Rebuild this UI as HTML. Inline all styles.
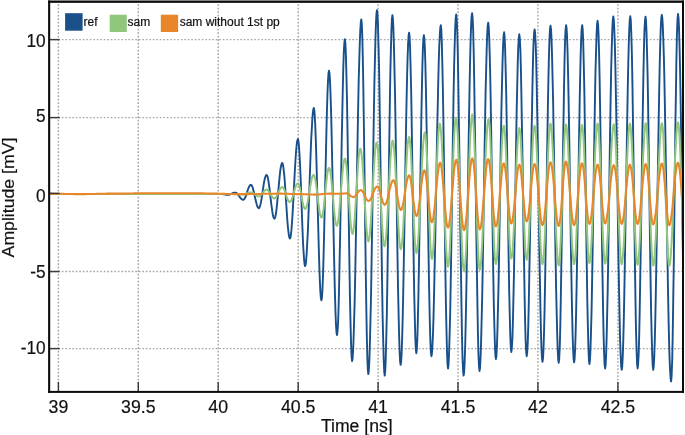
<!DOCTYPE html>
<html><head><meta charset="utf-8"><title>Amplitude vs Time</title>
<style>html,body{margin:0;padding:0;background:#fff;overflow:hidden}</style></head>
<body>
<svg width="685" height="435" viewBox="0 0 685 435" style="display:block">
<rect width="685" height="435" fill="#fff"/>
<g stroke="#a4a4a4" stroke-width="1.4" stroke-dasharray="1.6 1.9" stroke-dashoffset="2.2" fill="none"><line x1="58.4" y1="3" x2="58.4" y2="391" /><line x1="138.3" y1="3" x2="138.3" y2="391" /><line x1="218.2" y1="3" x2="218.2" y2="391" /><line x1="298.2" y1="3" x2="298.2" y2="391" /><line x1="378.1" y1="3" x2="378.1" y2="391" /><line x1="458.0" y1="3" x2="458.0" y2="391" /><line x1="537.9" y1="3" x2="537.9" y2="391" /><line x1="617.9" y1="3" x2="617.9" y2="391" /><line x1="50" y1="39.60" x2="682" y2="39.60" /><line x1="50" y1="117.60" x2="682" y2="117.60" /><line x1="50" y1="271.55" x2="682" y2="271.55" /><line x1="50" y1="348.60" x2="682" y2="348.60" /></g>
<path d="M50.0,194.1 L50.5,194.1 L51.0,194.1 L51.5,194.1 L52.0,194.1 L52.5,194.1 L53.0,194.1 L53.5,194.1 L54.0,194.1 L54.5,194.1 L55.0,194.1 L55.5,194.1 L56.0,194.1 L56.5,194.1 L57.0,194.1 L57.5,194.1 L58.0,194.1 L58.5,194.1 L59.0,194.1 L59.5,194.1 L60.0,194.1 L60.5,194.1 L61.0,194.1 L61.5,194.1 L62.0,194.1 L62.5,194.1 L63.0,194.1 L63.5,194.1 L64.0,194.1 L64.5,194.1 L65.0,194.1 L65.5,194.1 L66.0,194.1 L66.5,194.1 L67.0,194.1 L67.5,194.1 L68.0,194.1 L68.5,194.1 L69.0,194.1 L69.5,194.1 L70.0,194.1 L70.5,194.1 L71.0,194.1 L71.5,194.1 L72.0,194.1 L72.5,194.1 L73.0,194.1 L73.5,194.1 L74.0,194.1 L74.5,194.1 L75.0,194.1 L75.5,194.1 L76.0,194.1 L76.5,194.1 L77.0,194.1 L77.5,194.1 L78.0,194.1 L78.5,194.1 L79.0,194.1 L79.5,194.1 L80.0,194.1 L80.5,194.1 L81.0,194.1 L81.5,194.1 L82.0,194.1 L82.5,194.1 L83.0,194.1 L83.5,194.1 L84.0,194.1 L84.5,194.1 L85.0,194.1 L85.5,194.1 L86.0,194.1 L86.5,194.1 L87.0,194.1 L87.5,194.1 L88.0,194.1 L88.5,194.1 L89.0,194.1 L89.5,194.1 L90.0,194.1 L90.5,194.1 L91.0,194.1 L91.5,194.1 L92.0,194.1 L92.5,194.1 L93.0,194.1 L93.5,194.1 L94.0,194.1 L94.5,194.1 L95.0,194.1 L95.5,194.1 L96.0,194.1 L96.5,194.1 L97.0,194.1 L97.5,194.1 L98.0,194.1 L98.5,194.1 L99.0,194.1 L99.5,194.1 L100.0,194.1 L100.5,194.1 L101.0,194.1 L101.5,194.1 L102.0,194.1 L102.5,194.1 L103.0,194.1 L103.5,194.1 L104.0,194.1 L104.5,194.1 L105.0,194.1 L105.5,194.1 L106.0,194.1 L106.5,194.1 L107.0,194.1 L107.5,194.1 L108.0,194.1 L108.5,194.1 L109.0,194.1 L109.5,194.1 L110.0,194.1 L110.5,194.1 L111.0,194.1 L111.5,194.1 L112.0,194.1 L112.5,194.1 L113.0,194.1 L113.5,194.1 L114.0,194.1 L114.5,194.1 L115.0,194.1 L115.5,194.1 L116.0,194.1 L116.5,194.1 L117.0,194.1 L117.5,194.1 L118.0,194.1 L118.5,194.1 L119.0,194.1 L119.5,194.1 L120.0,194.1 L120.5,194.1 L121.0,194.1 L121.5,194.1 L122.0,194.1 L122.5,194.1 L123.0,194.1 L123.5,194.1 L124.0,194.1 L124.5,194.1 L125.0,194.1 L125.5,194.1 L126.0,194.1 L126.5,194.1 L127.0,194.1 L127.5,194.1 L128.0,194.1 L128.5,194.1 L129.0,194.1 L129.5,194.1 L130.0,194.1 L130.5,194.1 L131.0,194.1 L131.5,194.1 L132.0,194.1 L132.5,194.1 L133.0,194.1 L133.5,194.1 L134.0,194.1 L134.5,194.1 L135.0,194.1 L135.5,194.1 L136.0,194.1 L136.5,194.1 L137.0,194.1 L137.5,194.1 L138.0,194.1 L138.5,194.1 L139.0,194.1 L139.5,194.1 L140.0,194.1 L140.5,194.1 L141.0,194.1 L141.5,194.1 L142.0,194.1 L142.5,194.1 L143.0,194.1 L143.5,194.1 L144.0,194.1 L144.5,194.1 L145.0,194.1 L145.5,194.1 L146.0,194.1 L146.5,194.1 L147.0,194.1 L147.5,194.1 L148.0,194.1 L148.5,194.1 L149.0,194.1 L149.5,194.1 L150.0,194.1 L150.5,194.1 L151.0,194.1 L151.5,194.1 L152.0,194.1 L152.5,194.1 L153.0,194.1 L153.5,194.1 L154.0,194.1 L154.5,194.1 L155.0,194.1 L155.5,194.1 L156.0,194.1 L156.5,194.1 L157.0,194.1 L157.5,194.1 L158.0,194.1 L158.5,194.1 L159.0,194.1 L159.5,194.1 L160.0,194.1 L160.5,194.1 L161.0,194.1 L161.5,194.1 L162.0,194.1 L162.5,194.1 L163.0,194.1 L163.5,194.1 L164.0,194.1 L164.5,194.1 L165.0,194.1 L165.5,194.1 L166.0,194.1 L166.5,194.1 L167.0,194.1 L167.5,194.1 L168.0,194.1 L168.5,194.1 L169.0,194.1 L169.5,194.1 L170.0,194.1 L170.5,194.1 L171.0,194.1 L171.5,194.1 L172.0,194.1 L172.5,194.1 L173.0,194.1 L173.5,194.1 L174.0,194.1 L174.5,194.1 L175.0,194.1 L175.5,194.1 L176.0,194.1 L176.5,194.1 L177.0,194.1 L177.5,194.1 L178.0,194.1 L178.5,194.1 L179.0,194.1 L179.5,194.1 L180.0,194.1 L180.5,194.1 L181.0,194.1 L181.5,194.1 L182.0,194.1 L182.5,194.1 L183.0,194.1 L183.5,194.1 L184.0,194.1 L184.5,194.1 L185.0,194.1 L185.5,194.1 L186.0,194.1 L186.5,194.1 L187.0,194.1 L187.5,194.1 L188.0,194.1 L188.5,194.1 L189.0,194.1 L189.5,194.1 L190.0,194.1 L190.5,194.1 L191.0,194.1 L191.5,194.1 L192.0,194.1 L192.5,194.1 L193.0,194.1 L193.5,194.1 L194.0,194.1 L194.5,194.1 L195.0,194.1 L195.5,194.1 L196.0,194.1 L196.5,194.1 L197.0,194.1 L197.5,194.1 L198.0,194.1 L198.5,194.1 L199.0,194.1 L199.5,194.1 L200.0,194.1 L200.5,194.1 L201.0,194.1 L201.5,194.1 L202.0,194.1 L202.5,194.1 L203.0,194.1 L203.5,194.1 L204.0,194.1 L204.5,194.1 L205.0,194.1 L205.5,194.1 L206.0,194.1 L206.5,194.1 L207.0,194.1 L207.5,194.1 L208.0,194.1 L208.5,194.1 L209.0,194.1 L209.5,194.1 L210.0,194.1 L210.5,194.1 L211.0,194.1 L211.5,194.1 L212.0,194.1 L212.5,194.1 L213.0,194.1 L213.5,194.1 L214.0,194.1 L214.5,194.1 L215.0,194.1 L215.5,194.1 L216.0,194.1 L216.5,194.1 L217.0,194.1 L217.5,194.1 L218.0,194.1 L218.5,194.1 L219.0,194.1 L219.5,194.1 L220.0,194.1 L220.5,194.1 L221.0,194.1 L221.5,194.1 L222.0,194.1 L222.5,194.1 L223.0,194.2 L223.5,194.2 L224.0,194.3 L224.5,194.4 L225.0,194.5 L225.5,194.6 L226.0,194.7 L226.5,194.8 L227.0,194.8 L227.5,194.9 L228.0,194.9 L228.5,194.8 L229.0,194.8 L229.5,194.6 L230.1,194.4 L230.6,194.2 L231.1,194.0 L231.6,193.7 L232.1,193.5 L232.6,193.2 L233.1,193.0 L233.7,192.8 L234.2,192.7 L234.7,192.6 L235.2,192.6 L235.7,192.6 L236.2,192.8 L236.7,193.2 L237.2,193.6 L237.7,194.2 L238.2,194.8 L238.7,195.5 L239.2,196.2 L239.7,196.9 L240.2,197.6 L240.7,198.2 L241.2,198.8 L241.7,199.2 L242.2,199.5 L242.7,199.7 L243.2,199.8 L243.7,199.7 L244.2,199.2 L244.7,198.4 L245.3,197.3 L245.8,196.1 L246.3,194.6 L246.8,193.1 L247.3,191.5 L247.8,190.0 L248.3,188.6 L248.8,187.3 L249.4,186.3 L249.9,185.5 L250.4,185.0 L250.9,184.8 L251.4,185.1 L252.0,185.8 L252.5,187.1 L253.0,188.7 L253.5,190.7 L254.1,192.9 L254.6,195.3 L255.1,197.7 L255.6,200.1 L256.2,202.3 L256.7,204.3 L257.2,205.9 L257.7,207.2 L258.3,207.9 L258.8,208.2 L259.3,207.8 L259.8,206.7 L260.3,205.0 L260.9,202.7 L261.4,199.9 L261.9,196.7 L262.4,193.3 L262.9,189.8 L263.4,186.4 L263.9,183.2 L264.4,180.4 L265.0,178.1 L265.5,176.4 L266.0,175.3 L266.5,174.9 L267.0,175.4 L267.6,176.8 L268.1,179.1 L268.6,182.2 L269.1,185.9 L269.7,190.0 L270.2,194.5 L270.7,199.1 L271.2,203.6 L271.8,207.7 L272.3,211.4 L272.8,214.5 L273.3,216.8 L273.9,218.2 L274.4,218.7 L274.9,218.1 L275.4,216.3 L276.0,213.3 L276.5,209.4 L277.0,204.7 L277.5,199.4 L278.0,193.7 L278.6,187.9 L279.1,182.2 L279.6,176.8 L280.1,172.1 L280.6,168.2 L281.2,165.3 L281.7,163.5 L282.2,162.9 L282.7,163.7 L283.2,166.2 L283.7,170.1 L284.3,175.4 L284.8,181.8 L285.3,189.0 L285.8,196.8 L286.3,204.7 L286.8,212.4 L287.3,219.7 L287.8,226.1 L288.4,231.4 L288.9,235.3 L289.4,237.8 L289.9,238.6 L290.4,237.6 L290.9,234.8 L291.4,230.2 L291.9,224.0 L292.4,216.5 L292.9,207.9 L293.4,198.6 L293.9,188.8 L294.4,179.1 L294.9,169.8 L295.4,161.2 L295.9,153.7 L296.4,147.5 L296.9,142.9 L297.4,140.1 L297.9,139.1 L298.4,140.7 L298.9,145.4 L299.4,153.0 L300.0,163.0 L300.5,175.0 L301.0,188.5 L301.5,202.6 L302.0,216.7 L302.5,230.1 L303.0,242.2 L303.6,252.2 L304.1,259.8 L304.6,264.5 L305.1,266.1 L305.6,264.8 L306.1,260.8 L306.6,254.3 L307.1,245.5 L307.7,234.7 L308.2,222.3 L308.7,208.7 L309.2,194.4 L309.7,179.8 L310.2,165.4 L310.7,151.8 L311.2,139.4 L311.8,128.7 L312.3,119.9 L312.8,113.4 L313.3,109.4 L313.8,108.0 L314.3,110.1 L314.8,116.4 L315.3,126.4 L315.8,139.9 L316.3,156.1 L316.8,174.5 L317.3,194.2 L317.9,214.3 L318.4,233.9 L318.9,252.3 L319.4,268.6 L319.9,282.0 L320.4,292.1 L320.9,298.3 L321.4,300.4 L321.9,297.9 L322.4,290.5 L322.9,278.5 L323.4,262.4 L323.9,243.0 L324.4,221.1 L324.9,197.6 L325.5,173.6 L326.0,150.1 L326.5,128.2 L327.0,108.8 L327.5,92.7 L328.0,80.7 L328.5,73.3 L329.0,70.8 L329.5,73.3 L330.0,80.9 L330.5,93.1 L331.0,109.5 L331.5,129.5 L332.0,152.4 L332.5,177.1 L333.0,202.9 L333.5,228.7 L334.0,253.5 L334.5,276.3 L335.0,296.3 L335.5,312.7 L336.0,324.9 L336.5,332.5 L337.0,335.0 L337.5,331.8 L338.1,322.2 L338.6,306.8 L339.1,286.1 L339.6,261.1 L340.2,232.8 L340.7,202.6 L341.2,171.7 L341.7,141.5 L342.3,113.2 L342.8,88.2 L343.3,67.5 L343.8,52.1 L344.4,42.5 L344.9,39.3 L345.4,43.3 L345.9,55.2 L346.4,74.4 L347.0,99.9 L347.5,130.4 L348.0,164.4 L348.5,200.2 L349.0,236.0 L349.5,270.0 L350.0,300.5 L350.6,326.0 L351.1,345.2 L351.6,357.1 L352.1,361.1 L352.6,358.5 L353.1,350.8 L353.6,338.2 L354.1,321.1 L354.7,300.1 L355.2,275.7 L355.7,248.7 L356.2,219.9 L356.7,190.2 L357.2,160.6 L357.7,131.8 L358.2,104.8 L358.7,80.4 L359.3,59.3 L359.8,42.3 L360.3,29.7 L360.8,22.0 L361.3,19.4 L361.8,23.8 L362.3,36.9 L362.8,58.1 L363.3,86.1 L363.8,119.8 L364.3,157.3 L364.8,196.7 L365.3,236.2 L365.8,273.7 L366.3,307.3 L366.8,335.4 L367.3,356.5 L367.8,369.6 L368.3,374.1 L368.8,371.0 L369.3,361.8 L369.8,346.8 L370.3,326.6 L370.9,301.8 L371.4,273.2 L371.9,241.9 L372.4,208.9 L372.9,175.3 L373.4,142.3 L373.9,111.0 L374.4,82.4 L375.0,57.6 L375.5,37.4 L376.0,22.4 L376.5,13.2 L377.0,10.1 L377.5,14.1 L378.0,25.9 L378.5,45.0 L379.1,70.6 L379.6,101.5 L380.1,136.4 L380.6,173.8 L381.1,212.0 L381.6,249.3 L382.1,284.3 L382.6,315.2 L383.2,340.7 L383.7,359.8 L384.2,371.6 L384.7,375.6 L385.2,371.7 L385.7,360.1 L386.2,341.2 L386.8,316.0 L387.3,285.5 L387.8,251.1 L388.3,214.3 L388.8,176.6 L389.3,139.7 L389.8,105.3 L390.3,74.8 L390.9,49.6 L391.4,30.8 L391.9,19.1 L392.4,15.2 L392.9,18.5 L393.4,28.5 L393.9,44.7 L394.4,66.4 L395.0,92.9 L395.5,123.1 L396.0,155.9 L396.5,190.0 L397.0,224.1 L397.5,256.9 L398.0,287.1 L398.6,313.6 L399.1,335.4 L399.6,351.5 L400.1,361.5 L400.6,364.8 L401.1,362.0 L401.6,353.6 L402.1,339.9 L402.6,321.5 L403.1,298.8 L403.6,272.8 L404.1,244.2 L404.6,214.1 L405.1,183.4 L405.6,153.3 L406.1,124.7 L406.6,98.6 L407.1,76.0 L407.6,57.5 L408.1,43.9 L408.6,35.5 L409.1,32.6 L409.6,36.7 L410.1,48.5 L410.6,67.6 L411.2,93.0 L411.7,123.4 L412.2,157.3 L412.7,192.9 L413.2,228.6 L413.7,262.5 L414.2,292.9 L414.8,318.3 L415.3,337.4 L415.8,349.2 L416.3,353.2 L416.8,349.8 L417.3,339.5 L417.8,322.9 L418.3,300.6 L418.8,273.7 L419.3,243.3 L419.8,210.8 L420.4,177.6 L420.9,145.0 L421.4,114.6 L421.9,87.7 L422.4,65.5 L422.9,48.9 L423.4,38.6 L423.9,35.1 L424.4,38.6 L424.9,49.0 L425.4,65.8 L425.9,88.2 L426.4,115.4 L426.9,146.0 L427.4,178.9 L427.9,212.4 L428.4,245.3 L428.9,275.9 L429.4,303.1 L429.9,325.5 L430.4,342.3 L430.9,352.7 L431.4,356.2 L431.9,353.7 L432.4,346.2 L433.0,334.0 L433.5,317.4 L434.0,297.0 L434.5,273.4 L435.1,247.2 L435.6,219.4 L436.1,190.6 L436.6,161.9 L437.1,134.0 L437.7,107.9 L438.2,84.2 L438.7,63.8 L439.2,47.3 L439.8,35.1 L440.3,27.6 L440.8,25.1 L441.3,29.4 L441.8,42.1 L442.3,62.5 L442.9,89.7 L443.4,122.3 L443.9,158.6 L444.4,196.8 L444.9,235.0 L445.4,271.3 L445.9,303.9 L446.5,331.1 L447.0,351.5 L447.5,364.2 L448.0,368.5 L448.5,365.1 L449.0,355.1 L449.5,338.7 L450.1,316.7 L450.6,289.8 L451.1,259.2 L451.6,226.0 L452.1,191.5 L452.6,156.9 L453.1,123.7 L453.6,93.1 L454.1,66.3 L454.7,44.3 L455.2,27.9 L455.7,17.8 L456.2,14.4 L456.7,18.9 L457.3,32.3 L457.8,53.8 L458.3,82.4 L458.8,116.7 L459.4,154.8 L459.9,195.0 L460.4,235.2 L461.0,273.4 L461.5,307.6 L462.0,336.2 L462.5,357.8 L463.1,371.1 L463.6,375.6 L464.1,372.6 L464.6,363.4 L465.1,348.5 L465.6,328.3 L466.1,303.6 L466.6,275.2 L467.1,244.0 L467.6,211.1 L468.1,177.7 L468.6,144.8 L469.1,113.6 L469.6,85.2 L470.1,60.5 L470.6,40.3 L471.1,25.4 L471.6,16.3 L472.1,13.2 L472.6,17.7 L473.2,30.9 L473.7,52.2 L474.2,80.5 L474.7,114.5 L475.3,152.3 L475.8,192.1 L476.3,231.9 L476.9,269.7 L477.4,303.6 L477.9,332.0 L478.4,353.3 L479.0,366.5 L479.5,371.0 L480.0,368.0 L480.5,359.2 L481.0,344.9 L481.5,325.5 L482.1,301.8 L482.6,274.5 L483.1,244.5 L483.6,212.9 L484.1,180.7 L484.6,149.1 L485.1,119.2 L485.6,91.8 L486.2,68.1 L486.7,48.7 L487.2,34.4 L487.7,25.6 L488.2,22.6 L488.7,26.3 L489.2,37.2 L489.7,54.7 L490.3,78.3 L490.8,106.7 L491.3,138.9 L491.8,173.3 L492.3,208.4 L492.8,242.8 L493.3,275.0 L493.8,303.4 L494.4,327.0 L494.9,344.6 L495.4,355.4 L495.9,359.1 L496.4,356.0 L496.9,346.7 L497.4,331.6 L497.9,311.3 L498.5,286.5 L499.0,258.2 L499.5,227.6 L500.0,195.7 L500.5,163.8 L501.0,133.2 L501.5,105.0 L502.1,80.2 L502.6,59.9 L503.1,44.8 L503.6,35.5 L504.1,32.3 L504.6,36.3 L505.1,48.2 L505.6,67.2 L506.2,92.5 L506.7,122.8 L507.2,156.6 L507.7,192.2 L508.2,227.7 L508.7,261.5 L509.2,291.8 L509.8,317.1 L510.3,336.2 L510.8,348.0 L511.3,352.0 L511.8,348.5 L512.4,338.3 L512.9,321.7 L513.4,299.4 L514.0,272.6 L514.5,242.3 L515.0,209.8 L515.6,176.6 L516.1,144.1 L516.6,113.8 L517.2,86.9 L517.7,64.7 L518.2,48.1 L518.8,37.8 L519.3,34.3 L519.8,38.4 L520.4,50.3 L520.9,69.5 L521.4,94.9 L521.9,125.4 L522.5,159.5 L523.0,195.3 L523.5,231.1 L524.1,265.1 L524.6,295.6 L525.1,321.1 L525.6,340.2 L526.2,352.1 L526.7,356.2 L527.2,352.6 L527.8,342.0 L528.3,325.0 L528.8,302.1 L529.3,274.5 L529.9,243.3 L530.4,209.9 L530.9,175.7 L531.4,142.3 L532.0,111.1 L532.5,83.5 L533.0,60.6 L533.5,43.5 L534.1,33.0 L534.6,29.4 L535.1,33.0 L535.7,43.8 L536.2,61.2 L536.7,84.4 L537.2,112.5 L537.8,144.3 L538.3,178.3 L538.8,213.0 L539.3,247.0 L539.9,278.8 L540.4,306.9 L540.9,330.1 L541.4,347.5 L542.0,358.3 L542.5,361.9 L543.0,358.7 L543.5,349.1 L544.0,333.6 L544.5,312.7 L545.0,287.2 L545.5,258.1 L546.0,226.6 L546.5,193.8 L547.0,161.0 L547.5,129.5 L548.0,100.4 L548.5,74.9 L549.0,54.0 L549.5,38.5 L550.0,28.9 L550.5,25.7 L551.0,28.9 L551.5,38.5 L552.0,54.1 L552.5,75.1 L553.1,100.6 L553.6,129.7 L554.1,161.4 L554.6,194.3 L555.1,227.1 L555.6,258.8 L556.1,287.9 L556.7,313.4 L557.2,334.4 L557.7,350.0 L558.2,359.6 L558.7,362.8 L559.2,358.6 L559.8,346.1 L560.3,326.0 L560.8,299.2 L561.3,267.2 L561.9,231.5 L562.4,193.9 L562.9,156.4 L563.5,120.7 L564.0,88.7 L564.5,61.9 L565.0,41.8 L565.6,29.3 L566.1,25.1 L566.6,28.3 L567.1,37.9 L567.6,53.5 L568.1,74.5 L568.6,100.0 L569.1,129.2 L569.6,160.8 L570.1,193.7 L570.6,226.6 L571.1,258.2 L571.6,287.4 L572.1,313.0 L572.6,333.9 L573.1,349.5 L573.6,359.1 L574.1,362.4 L574.6,359.1 L575.1,349.5 L575.6,333.9 L576.1,313.0 L576.6,287.4 L577.1,258.2 L577.6,226.6 L578.2,193.7 L578.7,160.8 L579.2,129.2 L579.7,100.0 L580.2,74.5 L580.7,53.5 L581.2,37.9 L581.7,28.3 L582.2,25.1 L582.7,29.3 L583.2,41.9 L583.7,62.1 L584.3,88.9 L584.8,121.0 L585.3,156.8 L585.8,194.6 L586.3,232.3 L586.8,268.1 L587.3,300.2 L587.9,327.1 L588.4,347.3 L588.9,359.8 L589.4,364.0 L589.9,360.8 L590.4,351.0 L590.9,335.1 L591.5,313.8 L592.0,287.8 L592.5,258.1 L593.0,225.9 L593.5,192.4 L594.0,158.9 L594.5,126.7 L595.0,97.0 L595.5,71.0 L596.1,49.7 L596.6,33.8 L597.1,24.0 L597.6,20.8 L598.1,24.6 L598.6,35.8 L599.1,54.0 L599.6,78.3 L600.1,107.7 L600.6,140.9 L601.1,176.5 L601.6,212.8 L602.1,248.4 L602.6,281.6 L603.1,311.0 L603.6,335.3 L604.1,353.5 L604.6,364.7 L605.1,368.5 L605.6,365.1 L606.1,355.1 L606.6,338.9 L607.1,317.0 L607.7,290.3 L608.2,259.9 L608.7,226.8 L609.2,192.5 L609.7,158.1 L610.2,125.1 L610.7,94.7 L611.2,68.0 L611.8,46.1 L612.3,29.8 L612.8,19.8 L613.3,16.4 L613.8,19.8 L614.3,29.9 L614.9,46.2 L615.4,68.2 L615.9,94.9 L616.5,125.5 L617.0,158.6 L617.5,193.1 L618.0,227.6 L618.5,260.7 L619.1,291.2 L619.6,318.0 L620.1,340.0 L620.7,356.3 L621.2,366.4 L621.7,369.8 L622.2,366.8 L622.7,357.8 L623.2,343.3 L623.7,323.6 L624.2,299.5 L624.7,271.8 L625.2,241.4 L625.7,209.3 L626.3,176.7 L626.8,144.6 L627.3,114.2 L627.8,86.5 L628.3,62.4 L628.8,42.7 L629.3,28.2 L629.8,19.3 L630.3,16.3 L630.8,20.7 L631.3,33.7 L631.9,54.7 L632.4,82.6 L632.9,116.0 L633.4,153.2 L634.0,192.4 L634.5,231.6 L635.0,268.8 L635.5,302.2 L636.0,330.1 L636.6,351.1 L637.1,364.1 L637.6,368.5 L638.1,364.7 L638.7,353.3 L639.2,334.9 L639.7,310.3 L640.2,280.6 L640.8,247.0 L641.3,211.0 L641.8,174.2 L642.3,138.3 L642.9,104.7 L643.4,74.9 L643.9,50.3 L644.4,31.9 L645.0,20.6 L645.5,16.7 L646.0,20.6 L646.5,32.0 L647.0,50.4 L647.6,75.1 L648.1,105.0 L648.6,138.7 L649.1,174.8 L649.6,211.7 L650.1,247.8 L650.6,281.5 L651.1,311.4 L651.7,336.1 L652.2,354.5 L652.7,365.9 L653.2,369.8 L653.7,366.7 L654.2,357.8 L654.7,343.2 L655.2,323.5 L655.7,299.3 L656.2,271.4 L656.7,240.9 L657.2,208.7 L657.8,176.0 L658.3,143.8 L658.8,113.2 L659.3,85.4 L659.8,61.2 L660.3,41.5 L660.8,26.9 L661.3,17.9 L661.8,14.9 L662.3,17.7 L662.8,25.9 L663.3,39.4 L663.9,57.8 L664.4,80.4 L664.9,106.5 L665.4,135.5 L665.9,166.4 L666.5,198.2 L667.0,230.0 L667.5,260.9 L668.0,289.9 L668.5,316.0 L669.0,338.6 L669.5,356.9 L670.1,370.5 L670.6,378.7 L671.1,381.5 L671.6,376.2 L672.2,360.5 L672.7,335.3 L673.2,302.1 L673.8,262.9 L674.3,219.9 L674.8,175.6 L675.3,132.6 L675.9,93.3 L676.4,60.2 L676.9,35.0 L677.5,19.3 L678.0,14.0 L678.5,17.4 L679.0,27.6 L679.5,44.1 L680.0,66.4 L680.5,93.5 L681.0,124.4 L681.5,158.0 L682.0,192.9 L682.5,227.8 L683.0,261.3" fill="none" stroke="#19508a" stroke-width="1.9" stroke-linejoin="round"/>
<path d="M50.0,194.1 L50.5,194.1 L51.0,194.1 L51.5,194.1 L52.0,194.1 L52.5,194.1 L53.0,194.1 L53.5,194.1 L54.0,194.1 L54.5,194.1 L55.0,194.1 L55.5,194.1 L56.0,194.1 L56.5,194.1 L57.0,194.1 L57.5,194.1 L58.0,194.1 L58.5,194.1 L59.0,194.1 L59.5,194.1 L60.0,194.1 L60.5,194.1 L61.0,194.1 L61.5,194.1 L62.0,194.1 L62.5,194.1 L63.0,194.1 L63.5,194.1 L64.0,194.1 L64.5,194.1 L65.0,194.1 L65.5,194.1 L66.0,194.1 L66.5,194.1 L67.0,194.1 L67.5,194.1 L68.0,194.1 L68.5,194.1 L69.0,194.1 L69.5,194.1 L70.0,194.1 L70.5,194.1 L71.0,194.1 L71.5,194.1 L72.0,194.1 L72.5,194.1 L73.0,194.1 L73.5,194.1 L74.0,194.1 L74.5,194.1 L75.0,194.1 L75.5,194.1 L76.0,194.1 L76.5,194.1 L77.0,194.1 L77.5,194.1 L78.0,194.1 L78.5,194.1 L79.0,194.1 L79.5,194.1 L80.0,194.1 L80.5,194.1 L81.0,194.1 L81.5,194.1 L82.0,194.1 L82.5,194.1 L83.0,194.1 L83.5,194.1 L84.0,194.1 L84.5,194.1 L85.0,194.1 L85.5,194.1 L86.0,194.1 L86.5,194.1 L87.0,194.1 L87.5,194.1 L88.0,194.1 L88.5,194.1 L89.0,194.1 L89.5,194.1 L90.0,194.1 L90.5,194.1 L91.0,194.1 L91.5,194.1 L92.0,194.1 L92.5,194.1 L93.0,194.1 L93.5,194.1 L94.0,194.1 L94.5,194.1 L95.0,194.1 L95.5,194.1 L96.0,194.1 L96.5,194.1 L97.0,194.1 L97.5,194.1 L98.0,194.1 L98.5,194.1 L99.0,194.1 L99.5,194.1 L100.0,194.1 L100.5,194.1 L101.0,194.1 L101.5,194.1 L102.0,194.1 L102.5,194.1 L103.0,194.1 L103.5,194.1 L104.0,194.1 L104.5,194.1 L105.0,194.1 L105.5,194.1 L106.0,194.1 L106.5,194.1 L107.0,194.1 L107.5,194.1 L108.0,194.1 L108.5,194.1 L109.0,194.1 L109.5,194.1 L110.0,194.1 L110.5,194.1 L111.0,194.1 L111.5,194.1 L112.0,194.1 L112.5,194.1 L113.0,194.1 L113.5,194.1 L114.0,194.1 L114.5,194.1 L115.0,194.1 L115.5,194.1 L116.0,194.1 L116.5,194.1 L117.0,194.1 L117.5,194.1 L118.0,194.1 L118.5,194.1 L119.0,194.1 L119.5,194.1 L120.0,194.1 L120.5,194.1 L121.0,194.1 L121.5,194.1 L122.0,194.1 L122.5,194.1 L123.0,194.1 L123.5,194.1 L124.0,194.1 L124.5,194.1 L125.0,194.1 L125.5,194.1 L126.0,194.1 L126.5,194.1 L127.0,194.1 L127.5,194.1 L128.0,194.1 L128.5,194.1 L129.0,194.1 L129.5,194.1 L130.0,194.1 L130.5,194.1 L131.0,194.1 L131.5,194.1 L132.0,194.1 L132.5,194.1 L133.0,194.1 L133.5,194.1 L134.0,194.1 L134.5,194.1 L135.0,194.1 L135.5,194.1 L136.0,194.1 L136.5,194.1 L137.0,194.1 L137.5,194.1 L138.0,194.1 L138.5,194.1 L139.0,194.1 L139.5,194.1 L140.0,194.1 L140.5,194.1 L141.0,194.1 L141.5,194.1 L142.0,194.1 L142.5,194.1 L143.0,194.1 L143.5,194.1 L144.0,194.1 L144.5,194.1 L145.0,194.1 L145.5,194.1 L146.0,194.1 L146.5,194.1 L147.0,194.1 L147.5,194.1 L148.0,194.1 L148.5,194.1 L149.0,194.1 L149.5,194.1 L150.0,194.1 L150.5,194.1 L151.0,194.1 L151.5,194.1 L152.0,194.1 L152.5,194.1 L153.0,194.1 L153.5,194.1 L154.0,194.1 L154.5,194.1 L155.0,194.1 L155.5,194.1 L156.0,194.1 L156.5,194.1 L157.0,194.1 L157.5,194.1 L158.0,194.1 L158.5,194.1 L159.0,194.1 L159.5,194.1 L160.0,194.1 L160.5,194.1 L161.0,194.1 L161.5,194.1 L162.0,194.1 L162.5,194.1 L163.0,194.1 L163.5,194.1 L164.0,194.1 L164.5,194.1 L165.0,194.1 L165.5,194.1 L166.0,194.1 L166.5,194.1 L167.0,194.1 L167.5,194.1 L168.0,194.1 L168.5,194.1 L169.0,194.1 L169.5,194.1 L170.0,194.1 L170.5,194.1 L171.0,194.1 L171.5,194.1 L172.0,194.1 L172.5,194.1 L173.0,194.1 L173.5,194.1 L174.0,194.1 L174.5,194.1 L175.0,194.1 L175.5,194.1 L176.0,194.1 L176.5,194.1 L177.0,194.1 L177.5,194.1 L178.0,194.1 L178.5,194.1 L179.0,194.1 L179.5,194.1 L180.0,194.1 L180.5,194.1 L181.0,194.1 L181.5,194.1 L182.0,194.1 L182.5,194.1 L183.0,194.1 L183.5,194.1 L184.0,194.1 L184.5,194.1 L185.0,194.1 L185.5,194.1 L186.0,194.1 L186.5,194.1 L187.0,194.1 L187.5,194.1 L188.0,194.1 L188.5,194.1 L189.0,194.1 L189.5,194.1 L190.0,194.1 L190.5,194.1 L191.0,194.1 L191.5,194.1 L192.0,194.1 L192.5,194.1 L193.0,194.1 L193.5,194.1 L194.0,194.1 L194.5,194.1 L195.0,194.1 L195.5,194.1 L196.0,194.1 L196.5,194.1 L197.0,194.1 L197.5,194.1 L198.0,194.1 L198.5,194.1 L199.0,194.1 L199.5,194.1 L200.0,194.1 L200.5,194.1 L201.0,194.1 L201.5,194.1 L202.0,194.1 L202.5,194.1 L203.0,194.1 L203.5,194.1 L204.0,194.1 L204.5,194.1 L205.0,194.1 L205.5,194.1 L206.0,194.1 L206.5,194.1 L207.0,194.1 L207.5,194.1 L208.0,194.1 L208.5,194.1 L209.0,194.1 L209.5,194.1 L210.0,194.1 L210.5,194.1 L211.0,194.1 L211.5,194.1 L212.0,194.1 L212.5,194.1 L213.0,194.1 L213.5,194.1 L214.0,194.1 L214.5,194.1 L215.0,194.1 L215.5,194.1 L216.0,194.1 L216.5,194.1 L217.0,194.1 L217.5,194.1 L218.0,194.1 L218.5,194.1 L219.0,194.1 L219.5,194.1 L220.0,194.1 L220.5,194.1 L221.0,194.1 L221.5,194.1 L222.0,194.1 L222.5,194.1 L223.0,194.1 L223.5,194.1 L224.0,194.1 L224.5,194.1 L225.0,194.1 L225.5,194.1 L226.0,194.1 L226.5,194.1 L227.0,194.1 L227.5,194.1 L228.0,194.1 L228.5,194.1 L229.0,194.1 L229.5,194.1 L230.0,194.1 L230.5,194.1 L231.0,194.1 L231.5,194.1 L232.0,194.1 L232.5,194.1 L233.0,194.1 L233.5,194.1 L234.0,194.1 L234.5,194.1 L235.0,194.1 L235.5,194.1 L236.0,194.1 L236.5,194.1 L237.0,194.1 L237.5,194.1 L238.1,194.2 L238.6,194.2 L239.1,194.2 L239.6,194.3 L240.1,194.3 L240.6,194.3 L241.1,194.4 L241.7,194.4 L242.2,194.4 L242.7,194.4 L243.2,194.4 L243.7,194.4 L244.2,194.3 L244.7,194.2 L245.3,194.1 L245.8,193.9 L246.3,193.7 L246.8,193.5 L247.3,193.3 L247.8,193.1 L248.3,192.9 L248.8,192.7 L249.4,192.6 L249.9,192.5 L250.4,192.4 L250.9,192.4 L251.4,192.4 L251.9,192.6 L252.5,192.8 L253.0,193.1 L253.5,193.4 L254.0,193.8 L254.5,194.2 L255.1,194.6 L255.6,195.0 L256.1,195.4 L256.6,195.8 L257.1,196.0 L257.7,196.2 L258.2,196.4 L258.7,196.4 L259.2,196.3 L259.7,196.1 L260.3,195.8 L260.8,195.3 L261.3,194.7 L261.8,194.1 L262.3,193.4 L262.9,192.7 L263.4,192.0 L263.9,191.3 L264.4,190.7 L264.9,190.3 L265.5,189.9 L266.0,189.7 L266.5,189.6 L267.0,189.7 L267.5,190.0 L268.1,190.5 L268.6,191.1 L269.1,191.8 L269.6,192.7 L270.1,193.6 L270.7,194.5 L271.2,195.4 L271.7,196.2 L272.2,197.0 L272.7,197.6 L273.3,198.0 L273.8,198.3 L274.3,198.4 L274.8,198.3 L275.4,197.9 L275.9,197.3 L276.4,196.6 L276.9,195.6 L277.5,194.5 L278.0,193.4 L278.5,192.2 L279.0,191.0 L279.6,190.0 L280.1,189.0 L280.6,188.2 L281.1,187.6 L281.7,187.3 L282.2,187.1 L282.7,187.3 L283.2,187.8 L283.7,188.6 L284.2,189.6 L284.7,190.9 L285.2,192.3 L285.7,193.8 L286.2,195.3 L286.7,196.9 L287.2,198.3 L287.7,199.5 L288.2,200.6 L288.7,201.3 L289.2,201.8 L289.7,202.0 L290.2,201.8 L290.7,201.3 L291.2,200.4 L291.8,199.3 L292.3,197.9 L292.8,196.3 L293.3,194.5 L293.8,192.7 L294.3,190.9 L294.8,189.2 L295.3,187.6 L295.8,186.2 L296.4,185.0 L296.9,184.1 L297.4,183.6 L297.9,183.4 L298.4,183.8 L298.9,184.7 L299.4,186.2 L300.0,188.2 L300.5,190.7 L301.0,193.3 L301.5,196.2 L302.0,199.0 L302.5,201.7 L303.0,204.1 L303.6,206.2 L304.1,207.7 L304.6,208.6 L305.1,208.9 L305.6,208.6 L306.1,207.8 L306.6,206.4 L307.1,204.5 L307.6,202.2 L308.1,199.5 L308.6,196.6 L309.1,193.5 L309.6,190.4 L310.1,187.3 L310.6,184.4 L311.1,181.7 L311.6,179.4 L312.1,177.5 L312.6,176.1 L313.1,175.2 L313.6,174.9 L314.1,175.4 L314.7,176.8 L315.2,179.0 L315.7,182.0 L316.2,185.6 L316.8,189.7 L317.3,194.0 L317.8,198.5 L318.3,202.9 L318.9,206.9 L319.4,210.5 L319.9,213.5 L320.4,215.7 L321.0,217.1 L321.5,217.6 L322.0,217.0 L322.5,215.4 L323.0,212.8 L323.5,209.4 L324.0,205.1 L324.5,200.4 L325.0,195.3 L325.5,190.1 L326.0,185.0 L326.5,180.3 L327.0,176.1 L327.5,172.6 L328.0,170.0 L328.5,168.4 L329.0,167.8 L329.5,168.5 L330.0,170.3 L330.6,173.4 L331.1,177.4 L331.6,182.3 L332.1,187.9 L332.6,193.8 L333.2,199.8 L333.7,205.8 L334.2,211.3 L334.7,216.2 L335.2,220.2 L335.8,223.3 L336.3,225.1 L336.8,225.8 L337.3,225.1 L337.8,223.2 L338.3,220.1 L338.8,215.9 L339.3,210.8 L339.8,205.0 L340.3,198.7 L340.9,192.2 L341.4,185.6 L341.9,179.3 L342.4,173.5 L342.9,168.4 L343.4,164.2 L343.9,161.1 L344.4,159.2 L344.9,158.6 L345.4,159.4 L345.9,161.8 L346.4,165.8 L346.9,171.0 L347.4,177.4 L347.9,184.6 L348.4,192.3 L349.0,200.2 L349.5,207.9 L350.0,215.1 L350.5,221.5 L351.0,226.8 L351.5,230.7 L352.0,233.1 L352.5,234.0 L353.0,233.0 L353.5,230.3 L354.1,225.8 L354.6,219.9 L355.1,212.6 L355.6,204.5 L356.1,195.8 L356.7,186.9 L357.2,178.1 L357.7,170.0 L358.2,162.8 L358.7,156.8 L359.3,152.4 L359.8,149.6 L360.3,148.7 L360.8,149.6 L361.3,152.2 L361.8,156.5 L362.4,162.3 L362.9,169.3 L363.4,177.3 L363.9,186.0 L364.4,195.0 L364.9,204.1 L365.4,212.8 L365.9,220.8 L366.4,227.8 L367.0,233.6 L367.5,237.8 L368.0,240.5 L368.5,241.4 L369.0,240.4 L369.5,237.6 L370.0,233.1 L370.5,226.9 L371.0,219.4 L371.5,210.9 L372.0,201.6 L372.6,192.0 L373.1,182.4 L373.6,173.1 L374.1,164.6 L374.6,157.1 L375.1,151.0 L375.6,146.4 L376.1,143.6 L376.6,142.7 L377.1,143.8 L377.7,147.1 L378.2,152.6 L378.7,159.8 L379.2,168.6 L379.8,178.5 L380.3,189.1 L380.8,199.9 L381.3,210.5 L381.9,220.4 L382.4,229.2 L382.9,236.4 L383.4,241.8 L384.0,245.2 L384.5,246.3 L385.0,245.3 L385.5,242.3 L386.0,237.4 L386.6,230.8 L387.1,222.8 L387.6,213.7 L388.1,203.8 L388.6,193.5 L389.1,183.2 L389.6,173.3 L390.1,164.1 L390.6,156.1 L391.2,149.5 L391.7,144.7 L392.2,141.7 L392.7,140.6 L393.2,141.7 L393.7,144.8 L394.2,149.8 L394.7,156.5 L395.2,164.7 L395.7,174.1 L396.2,184.3 L396.8,194.9 L397.3,205.5 L397.8,215.6 L398.3,225.0 L398.8,233.2 L399.3,240.0 L399.8,245.0 L400.3,248.1 L400.8,249.1 L401.3,248.0 L401.8,244.8 L402.4,239.7 L402.9,232.7 L403.4,224.2 L403.9,214.5 L404.4,204.0 L405.0,193.0 L405.5,182.1 L406.0,171.6 L406.5,161.9 L407.0,153.4 L407.5,146.4 L408.1,141.2 L408.6,138.0 L409.1,136.9 L409.6,138.4 L410.1,142.7 L410.7,149.6 L411.2,158.8 L411.7,169.8 L412.2,182.0 L412.8,194.9 L413.3,207.9 L413.8,220.1 L414.3,231.1 L414.8,240.3 L415.4,247.2 L415.9,251.5 L416.4,253.0 L416.9,251.9 L417.4,248.9 L417.9,243.9 L418.4,237.2 L418.9,229.0 L419.4,219.6 L419.9,209.2 L420.4,198.3 L420.9,187.1 L421.4,176.2 L421.9,165.9 L422.4,156.4 L422.9,148.2 L423.4,141.5 L423.9,136.5 L424.4,133.5 L424.9,132.5 L425.4,134.0 L425.9,138.7 L426.4,146.3 L426.9,156.3 L427.4,168.3 L427.9,181.6 L428.4,195.7 L428.9,209.8 L429.4,223.2 L429.9,235.2 L430.4,245.2 L430.9,252.7 L431.4,257.4 L431.9,259.0 L432.4,257.5 L433.0,253.1 L433.5,246.1 L434.0,236.6 L434.5,225.2 L435.1,212.2 L435.6,198.4 L436.1,184.2 L436.6,170.4 L437.2,157.5 L437.7,146.0 L438.2,136.6 L438.7,129.5 L439.3,125.1 L439.8,123.6 L440.3,125.0 L440.8,129.1 L441.3,135.7 L441.9,144.6 L442.4,155.4 L442.9,167.8 L443.4,181.2 L443.9,195.1 L444.4,209.0 L444.9,222.4 L445.4,234.8 L445.9,245.6 L446.5,254.5 L447.0,261.1 L447.5,265.2 L448.0,266.6 L448.5,265.1 L449.0,260.9 L449.5,254.0 L450.0,244.8 L450.5,233.5 L451.0,220.6 L451.5,206.7 L452.0,192.2 L452.5,177.7 L453.0,163.7 L453.5,150.8 L454.0,139.6 L454.5,130.3 L455.0,123.4 L455.5,119.2 L456.0,117.8 L456.5,119.3 L457.0,123.6 L457.5,130.7 L458.0,140.3 L458.5,151.9 L459.0,165.2 L459.5,179.6 L460.1,194.6 L460.6,209.6 L461.1,224.1 L461.6,237.3 L462.1,249.0 L462.6,258.6 L463.1,265.7 L463.6,270.0 L464.1,271.5 L464.6,270.0 L465.1,265.5 L465.6,258.3 L466.2,248.5 L466.7,236.6 L467.2,223.1 L467.7,208.3 L468.2,193.0 L468.7,177.7 L469.2,163.0 L469.7,149.4 L470.2,137.5 L470.8,127.8 L471.3,120.5 L471.8,116.0 L472.3,114.5 L472.8,116.2 L473.3,121.2 L473.8,129.3 L474.3,140.2 L474.8,153.3 L475.3,168.1 L475.8,184.0 L476.3,200.2 L476.8,216.1 L477.3,230.9 L477.8,244.0 L478.3,254.8 L478.8,262.9 L479.3,268.0 L479.8,269.7 L480.3,268.4 L480.8,264.6 L481.3,258.4 L481.8,250.0 L482.4,239.7 L482.9,227.9 L483.4,214.9 L483.9,201.3 L484.4,187.4 L484.9,173.7 L485.4,160.8 L485.9,148.9 L486.5,138.7 L487.0,130.3 L487.5,124.1 L488.0,120.3 L488.5,119.0 L489.0,120.8 L489.6,126.2 L490.1,134.8 L490.6,146.3 L491.1,160.1 L491.7,175.4 L492.2,191.6 L492.7,207.7 L493.3,223.0 L493.8,236.8 L494.3,248.3 L494.8,256.9 L495.4,262.3 L495.9,264.1 L496.4,262.6 L497.0,258.1 L497.5,250.9 L498.0,241.2 L498.5,229.5 L499.1,216.3 L499.6,202.1 L500.1,187.6 L500.6,173.5 L501.2,160.3 L501.7,148.6 L502.2,138.9 L502.7,131.6 L503.3,127.2 L503.8,125.7 L504.3,127.1 L504.8,131.4 L505.3,138.3 L505.8,147.6 L506.3,158.9 L506.8,171.6 L507.3,185.1 L507.8,199.0 L508.3,212.6 L508.8,225.3 L509.3,236.5 L509.8,245.8 L510.3,252.8 L510.8,257.1 L511.3,258.5 L511.8,257.1 L512.4,252.9 L512.9,246.1 L513.4,237.0 L514.0,225.9 L514.5,213.5 L515.0,200.1 L515.6,186.5 L516.1,173.2 L516.6,160.7 L517.2,149.7 L517.7,140.6 L518.2,133.8 L518.8,129.6 L519.3,128.1 L519.8,129.8 L520.4,134.6 L520.9,142.5 L521.4,152.9 L521.9,165.4 L522.5,179.3 L523.0,193.9 L523.5,208.6 L524.1,222.5 L524.6,235.0 L525.1,245.4 L525.6,253.2 L526.2,258.1 L526.7,259.8 L527.2,258.3 L527.8,254.0 L528.3,247.0 L528.8,237.6 L529.3,226.2 L529.9,213.4 L530.4,199.7 L530.9,185.7 L531.4,172.0 L532.0,159.2 L532.5,147.8 L533.0,138.5 L533.5,131.5 L534.1,127.1 L534.6,125.7 L535.1,127.2 L535.7,131.6 L536.2,138.9 L536.7,148.6 L537.2,160.3 L537.8,173.5 L538.3,187.6 L538.8,202.1 L539.3,216.3 L539.9,229.5 L540.4,241.2 L540.9,250.9 L541.4,258.1 L542.0,262.6 L542.5,264.1 L543.0,262.7 L543.5,258.7 L544.0,252.3 L544.5,243.5 L545.0,232.9 L545.5,220.7 L546.0,207.6 L546.5,193.9 L547.0,180.2 L547.5,167.0 L548.0,154.9 L548.5,144.2 L549.0,135.5 L549.5,129.0 L550.0,125.0 L550.5,123.6 L551.0,125.0 L551.5,129.0 L552.0,135.6 L552.5,144.4 L553.1,155.2 L553.6,167.4 L554.1,180.7 L554.6,194.6 L555.1,208.4 L555.6,221.7 L556.1,234.0 L556.7,244.7 L557.2,253.5 L557.7,260.1 L558.2,264.1 L558.7,265.5 L559.2,263.7 L559.7,258.5 L560.2,250.1 L560.8,238.9 L561.3,225.6 L561.8,210.6 L562.3,194.9 L562.8,179.3 L563.3,164.3 L563.8,151.0 L564.4,139.8 L564.9,131.4 L565.4,126.2 L565.9,124.4 L566.4,125.8 L566.9,129.7 L567.4,136.2 L568.0,144.9 L568.5,155.5 L569.0,167.5 L569.5,180.6 L570.0,194.3 L570.5,207.9 L571.0,221.0 L571.5,233.1 L572.0,243.6 L572.6,252.3 L573.1,258.8 L573.6,262.7 L574.1,264.1 L574.6,262.6 L575.2,258.1 L575.7,250.8 L576.2,241.1 L576.7,229.3 L577.3,216.0 L577.8,201.8 L578.3,187.3 L578.8,173.1 L579.4,159.8 L579.9,148.0 L580.4,138.3 L580.9,131.0 L581.5,126.6 L582.0,125.0 L582.5,126.8 L583.1,131.9 L583.6,140.1 L584.1,151.0 L584.6,164.1 L585.2,178.7 L585.7,194.0 L586.2,209.4 L586.8,224.0 L587.3,237.0 L587.8,248.0 L588.3,256.2 L588.9,261.3 L589.4,263.0 L589.9,261.7 L590.4,257.7 L590.9,251.3 L591.5,242.6 L592.0,232.0 L592.5,220.0 L593.0,206.9 L593.5,193.3 L594.0,179.7 L594.5,166.7 L595.0,154.6 L595.5,144.1 L596.1,135.4 L596.6,129.0 L597.1,125.0 L597.6,123.6 L598.1,125.2 L598.6,129.7 L599.1,137.0 L599.6,146.8 L600.1,158.6 L600.6,172.0 L601.1,186.3 L601.6,200.9 L602.1,215.2 L602.6,228.5 L603.1,240.3 L603.6,250.1 L604.1,257.4 L604.6,261.9 L605.1,263.5 L605.6,262.3 L606.1,258.8 L606.6,253.1 L607.1,245.3 L607.7,235.8 L608.2,224.9 L608.7,213.0 L609.2,200.4 L609.7,187.5 L610.2,174.9 L610.7,163.0 L611.2,152.0 L611.8,142.6 L612.3,134.8 L612.8,129.1 L613.3,125.6 L613.8,124.4 L614.3,125.9 L614.9,130.5 L615.4,137.8 L615.9,147.5 L616.4,159.3 L617.0,172.7 L617.5,187.0 L618.0,201.6 L618.5,215.8 L619.1,229.2 L619.6,241.0 L620.1,250.8 L620.6,258.1 L621.2,262.6 L621.7,264.1 L622.2,262.7 L622.7,258.7 L623.2,252.3 L623.8,243.5 L624.3,232.9 L624.8,220.7 L625.3,207.6 L625.8,193.9 L626.3,180.2 L626.8,167.0 L627.3,154.9 L627.9,144.2 L628.4,135.5 L628.9,129.0 L629.4,125.0 L629.9,123.6 L630.4,125.2 L630.9,129.7 L631.4,137.1 L632.0,147.0 L632.5,158.9 L633.0,172.4 L633.5,186.8 L634.0,201.5 L634.5,216.0 L635.0,229.4 L635.5,241.4 L636.1,251.2 L636.6,258.6 L637.1,263.2 L637.6,264.7 L638.1,263.3 L638.6,259.3 L639.1,252.8 L639.6,244.0 L640.2,233.3 L640.7,221.0 L641.2,207.8 L641.7,193.9 L642.2,180.1 L642.7,166.9 L643.2,154.6 L643.8,143.9 L644.3,135.1 L644.8,128.6 L645.3,124.5 L645.8,123.2 L646.3,125.0 L646.9,130.2 L647.4,138.7 L647.9,150.0 L648.4,163.5 L649.0,178.5 L649.5,194.3 L650.0,210.2 L650.6,225.2 L651.1,238.7 L651.6,250.0 L652.1,258.4 L652.7,263.7 L653.2,265.5 L653.7,264.3 L654.2,260.7 L654.7,254.8 L655.2,246.9 L655.8,237.2 L656.3,226.0 L656.8,213.8 L657.3,200.9 L657.8,187.8 L658.3,174.9 L658.8,162.6 L659.3,151.5 L659.9,141.8 L660.4,133.8 L660.9,128.0 L661.4,124.4 L661.9,123.2 L662.4,125.0 L663.0,130.3 L663.5,138.8 L664.0,150.1 L664.5,163.6 L665.1,178.7 L665.6,194.6 L666.1,210.4 L666.7,225.5 L667.2,239.1 L667.7,250.4 L668.2,258.9 L668.8,264.2 L669.3,265.9 L669.8,264.7 L670.3,261.1 L670.8,255.2 L671.3,247.2 L671.9,237.4 L672.4,226.2 L672.9,213.8 L673.4,200.8 L673.9,187.6 L674.4,174.5 L674.9,162.2 L675.4,150.9 L676.0,141.1 L676.5,133.2 L677.0,127.3 L677.5,123.6 L678.0,122.4 L678.5,124.0 L679.0,128.6 L679.5,136.2 L680.0,146.3 L680.5,158.5 L681.0,172.3 L681.5,187.0 L682.0,202.1 L682.5,216.9 L683.0,230.6" fill="none" stroke="#91c67d" stroke-width="2" stroke-linejoin="round"/>
<path d="M50.0,193.6 L50.5,193.6 L51.0,193.6 L51.5,193.6 L52.0,193.6 L52.5,193.6 L53.0,193.6 L53.5,193.7 L54.0,193.7 L54.5,193.7 L55.0,193.7 L55.5,193.7 L56.0,193.7 L56.5,193.7 L57.0,193.7 L57.5,193.7 L58.0,193.7 L58.5,193.7 L59.0,193.7 L59.5,193.7 L60.0,193.8 L60.5,193.8 L61.0,193.8 L61.5,193.8 L62.0,193.8 L62.5,193.8 L63.0,193.8 L63.5,193.8 L64.0,193.8 L64.5,193.9 L65.0,193.9 L65.5,193.9 L66.0,193.9 L66.5,193.9 L67.0,193.9 L67.5,193.9 L68.0,193.9 L68.5,194.0 L69.0,194.0 L69.5,194.0 L70.0,194.0 L70.5,194.0 L71.0,194.0 L71.5,194.0 L72.0,194.0 L72.5,194.0 L73.0,194.0 L73.5,194.0 L74.0,194.1 L74.5,194.1 L75.0,194.1 L75.5,194.1 L76.0,194.1 L76.5,194.1 L77.0,194.1 L77.5,194.1 L78.0,194.1 L78.5,194.1 L79.0,194.1 L79.5,194.1 L80.0,194.1 L80.5,194.1 L81.0,194.1 L81.5,194.1 L82.0,194.1 L82.5,194.1 L83.0,194.1 L83.5,194.1 L84.0,194.1 L84.5,194.1 L85.0,194.1 L85.5,194.1 L86.0,194.1 L86.5,194.0 L87.0,194.0 L87.5,194.0 L88.0,194.0 L88.5,194.0 L89.0,194.0 L89.5,194.0 L90.0,194.0 L90.5,194.0 L91.0,194.0 L91.5,194.0 L92.0,193.9 L92.5,193.9 L93.0,193.9 L93.5,193.9 L94.0,193.9 L94.5,193.9 L95.0,193.9 L95.5,193.9 L96.0,193.8 L96.5,193.8 L97.0,193.8 L97.5,193.8 L98.0,193.8 L98.5,193.8 L99.0,193.8 L99.5,193.8 L100.0,193.8 L100.5,193.7 L101.0,193.7 L101.5,193.7 L102.0,193.7 L102.5,193.7 L103.0,193.7 L103.5,193.7 L104.0,193.7 L104.5,193.7 L105.0,193.7 L105.5,193.7 L106.0,193.7 L106.5,193.7 L107.0,193.6 L107.5,193.6 L108.0,193.6 L108.5,193.6 L109.0,193.6 L109.5,193.6 L110.0,193.6 L110.5,193.6 L111.0,193.6 L111.5,193.6 L112.0,193.6 L112.5,193.6 L113.0,193.6 L113.5,193.6 L114.0,193.6 L114.5,193.6 L115.0,193.6 L115.5,193.6 L116.0,193.6 L116.5,193.6 L117.0,193.6 L117.5,193.6 L118.0,193.6 L118.5,193.6 L119.0,193.6 L119.5,193.6 L120.0,193.6 L120.5,193.6 L121.0,193.6 L121.5,193.5 L122.0,193.5 L122.5,193.5 L123.0,193.5 L123.5,193.5 L124.0,193.5 L124.5,193.5 L125.0,193.5 L125.5,193.5 L126.0,193.5 L126.5,193.5 L127.0,193.5 L127.5,193.4 L128.0,193.4 L128.5,193.4 L129.0,193.4 L129.5,193.4 L130.0,193.4 L130.5,193.4 L131.0,193.4 L131.5,193.4 L132.0,193.4 L132.5,193.4 L133.0,193.4 L133.5,193.3 L134.0,193.3 L134.5,193.3 L135.0,193.3 L135.5,193.3 L136.0,193.3 L136.5,193.3 L137.0,193.3 L137.5,193.3 L138.0,193.3 L138.5,193.3 L139.0,193.3 L139.5,193.2 L140.0,193.2 L140.5,193.2 L141.0,193.2 L141.5,193.2 L142.0,193.2 L142.5,193.2 L143.0,193.2 L143.5,193.2 L144.0,193.2 L144.5,193.2 L145.0,193.2 L145.5,193.2 L146.0,193.2 L146.5,193.2 L147.0,193.2 L147.5,193.2 L148.0,193.2 L148.5,193.2 L149.0,193.2 L149.5,193.2 L150.0,193.2 L150.5,193.2 L151.0,193.2 L151.5,193.2 L152.0,193.2 L152.5,193.2 L153.0,193.2 L153.5,193.2 L154.0,193.2 L154.5,193.2 L155.0,193.2 L155.5,193.2 L156.0,193.2 L156.5,193.2 L157.0,193.2 L157.5,193.2 L158.0,193.2 L158.5,193.2 L159.0,193.2 L159.5,193.2 L160.0,193.2 L160.5,193.2 L161.0,193.2 L161.5,193.2 L162.0,193.2 L162.5,193.2 L163.0,193.2 L163.5,193.2 L164.0,193.2 L164.5,193.2 L165.0,193.2 L165.5,193.2 L166.0,193.2 L166.5,193.2 L167.0,193.2 L167.5,193.2 L168.0,193.2 L168.5,193.2 L169.0,193.2 L169.5,193.2 L170.0,193.2 L170.5,193.2 L171.0,193.2 L171.5,193.2 L172.0,193.2 L172.5,193.2 L173.0,193.2 L173.5,193.2 L174.0,193.2 L174.5,193.2 L175.0,193.3 L175.5,193.3 L176.0,193.3 L176.5,193.3 L177.0,193.3 L177.5,193.3 L178.0,193.3 L178.5,193.3 L179.0,193.3 L179.5,193.3 L180.0,193.3 L180.5,193.3 L181.0,193.3 L181.5,193.3 L182.0,193.3 L182.5,193.3 L183.0,193.3 L183.5,193.3 L184.0,193.3 L184.5,193.3 L185.0,193.3 L185.5,193.3 L186.0,193.3 L186.5,193.3 L187.0,193.3 L187.5,193.3 L188.0,193.3 L188.5,193.3 L189.0,193.3 L189.5,193.3 L190.0,193.3 L190.5,193.3 L191.0,193.3 L191.5,193.3 L192.0,193.3 L192.5,193.3 L193.0,193.3 L193.5,193.3 L194.0,193.3 L194.5,193.3 L195.0,193.3 L195.5,193.3 L196.0,193.3 L196.5,193.3 L197.0,193.3 L197.5,193.3 L198.0,193.3 L198.5,193.3 L199.0,193.3 L199.5,193.3 L200.0,193.3 L200.5,193.3 L201.0,193.3 L201.5,193.3 L202.0,193.3 L202.5,193.3 L203.0,193.3 L203.5,193.3 L204.0,193.3 L204.5,193.4 L205.0,193.4 L205.5,193.4 L206.0,193.4 L206.5,193.4 L207.0,193.4 L207.5,193.4 L208.0,193.4 L208.5,193.4 L209.0,193.4 L209.5,193.4 L210.0,193.4 L210.5,193.5 L211.0,193.5 L211.5,193.5 L212.0,193.5 L212.5,193.5 L213.0,193.5 L213.5,193.5 L214.0,193.5 L214.5,193.6 L215.0,193.6 L215.5,193.6 L216.0,193.6 L216.5,193.6 L217.0,193.6 L217.5,193.6 L218.0,193.7 L218.5,193.7 L219.0,193.7 L219.5,193.7 L220.0,193.7 L220.5,193.7 L221.0,193.7 L221.5,193.8 L222.0,193.8 L222.5,193.8 L223.0,193.8 L223.5,193.8 L224.0,193.8 L224.5,193.8 L225.0,193.9 L225.5,193.9 L226.0,193.9 L226.5,193.9 L227.0,193.9 L227.5,193.9 L228.0,193.9 L228.5,194.0 L229.0,194.0 L229.5,194.0 L230.0,194.0 L230.5,194.0 L231.0,194.0 L231.5,194.0 L232.0,194.0 L232.5,194.0 L233.0,194.0 L233.5,194.1 L234.0,194.1 L234.5,194.1 L235.0,194.1 L235.5,194.1 L236.0,194.1 L236.5,194.1 L237.0,194.1 L237.5,194.1 L238.0,194.1 L238.5,194.1 L239.0,194.1 L239.5,194.1 L240.0,194.1 L240.5,194.1 L241.0,194.1 L241.5,194.1 L242.0,194.1 L242.5,194.1 L243.0,194.1 L243.5,194.1 L244.0,194.1 L244.5,194.1 L245.0,194.1 L245.5,194.1 L246.0,194.1 L246.5,194.1 L247.0,194.1 L247.5,194.1 L248.0,194.1 L248.5,194.1 L249.0,194.0 L249.5,194.0 L250.0,194.0 L250.5,194.0 L251.0,194.0 L251.5,194.0 L252.0,194.0 L252.5,194.0 L253.0,194.0 L253.5,194.0 L254.0,194.0 L254.5,194.0 L255.0,194.0 L255.5,193.9 L256.0,193.9 L256.5,193.9 L257.0,193.9 L257.5,193.9 L258.0,193.9 L258.5,193.9 L259.0,193.9 L259.5,193.9 L260.0,193.9 L260.5,193.9 L261.0,193.9 L261.5,193.8 L262.0,193.8 L262.5,193.8 L263.0,193.8 L263.5,193.8 L264.0,193.8 L264.5,193.8 L265.0,193.8 L265.5,193.8 L266.0,193.8 L266.5,193.8 L267.0,193.7 L267.5,193.7 L268.0,193.7 L268.5,193.7 L269.0,193.7 L269.5,193.7 L270.0,193.7 L270.5,193.7 L271.0,193.7 L271.5,193.7 L272.0,193.7 L272.5,193.7 L273.0,193.7 L273.5,193.7 L274.0,193.7 L274.5,193.7 L275.0,193.7 L275.5,193.7 L276.0,193.6 L276.5,193.6 L277.0,193.6 L277.5,193.6 L278.0,193.6 L278.5,193.6 L279.0,193.6 L279.5,193.6 L280.0,193.6 L280.5,193.6 L281.0,193.6 L281.5,193.6 L282.0,193.6 L282.5,193.7 L283.0,193.7 L283.5,193.7 L284.0,193.7 L284.5,193.7 L285.0,193.7 L285.5,193.7 L286.0,193.7 L286.5,193.7 L287.0,193.8 L287.5,193.8 L288.0,193.8 L288.5,193.8 L289.0,193.8 L289.5,193.9 L290.0,193.9 L290.5,193.9 L291.0,193.9 L291.5,193.9 L292.0,193.9 L292.5,194.0 L293.0,194.0 L293.5,194.0 L294.0,194.0 L294.5,194.0 L295.0,194.0 L295.5,194.0 L296.0,194.1 L296.5,194.1 L297.0,194.1 L297.5,194.1 L298.0,194.1 L298.5,194.1 L299.0,194.1 L299.5,194.1 L300.0,194.1 L300.5,194.1 L301.0,194.1 L301.5,194.1 L302.0,194.1 L302.5,194.1 L303.0,194.1 L303.5,194.2 L304.0,194.2 L304.5,194.2 L305.0,194.2 L305.5,194.2 L306.0,194.3 L306.5,194.3 L307.0,194.3 L307.5,194.3 L308.0,194.4 L308.5,194.4 L309.0,194.4 L309.5,194.4 L310.0,194.4 L310.5,194.5 L311.0,194.5 L311.5,194.5 L312.0,194.5 L312.5,194.5 L313.0,194.5 L313.5,194.6 L314.0,194.6 L314.5,194.6 L315.0,194.6 L315.5,194.6 L316.0,194.6 L316.5,194.5 L317.0,194.5 L317.5,194.5 L318.0,194.5 L318.5,194.4 L319.0,194.4 L319.5,194.4 L320.0,194.3 L320.5,194.3 L321.0,194.2 L321.5,194.2 L322.0,194.1 L322.5,194.1 L323.0,194.1 L323.5,194.0 L324.0,194.0 L324.5,193.9 L325.0,193.9 L325.5,193.8 L326.0,193.8 L326.5,193.8 L327.0,193.7 L327.5,193.7 L328.0,193.7 L328.5,193.7 L329.0,193.6 L329.5,193.6 L330.0,193.6 L330.5,193.6 L331.0,193.6 L331.5,193.6 L332.0,193.7 L332.5,193.7 L333.0,193.7 L333.5,193.7 L334.0,193.7 L334.5,193.7 L335.0,193.7 L335.5,193.7 L336.0,193.7 L336.5,193.7 L337.0,193.8 L337.5,193.8 L338.0,193.8 L338.5,193.8 L339.0,193.8 L339.5,193.8 L340.0,193.8 L340.5,193.8 L341.1,193.8 L341.6,193.7 L342.1,193.7 L342.7,193.6 L343.2,193.6 L343.7,193.5 L344.3,193.4 L344.8,193.4 L345.3,193.4 L345.9,193.3 L346.4,193.3 L346.9,193.4 L347.5,193.5 L348.0,193.8 L348.5,194.1 L349.1,194.5 L349.6,195.0 L350.1,195.4 L350.6,195.8 L351.2,196.2 L351.7,196.6 L352.2,196.8 L352.8,197.0 L353.3,197.0 L353.8,197.0 L354.3,196.7 L354.8,196.4 L355.3,195.9 L355.8,195.3 L356.3,194.6 L356.8,193.9 L357.3,193.2 L357.8,192.5 L358.3,191.8 L358.8,191.2 L359.3,190.7 L359.8,190.4 L360.3,190.2 L360.8,190.1 L361.3,190.2 L361.8,190.6 L362.4,191.1 L362.9,191.9 L363.4,192.8 L363.9,193.9 L364.4,195.0 L365.0,196.1 L365.5,197.3 L366.0,198.3 L366.5,199.2 L367.0,200.0 L367.6,200.6 L368.1,200.9 L368.6,201.1 L369.1,200.9 L369.6,200.6 L370.1,200.0 L370.6,199.1 L371.2,198.1 L371.7,197.0 L372.2,195.7 L372.7,194.4 L373.2,193.0 L373.7,191.7 L374.2,190.4 L374.7,189.3 L375.3,188.3 L375.8,187.5 L376.3,186.9 L376.8,186.5 L377.3,186.4 L377.8,186.6 L378.4,187.3 L378.9,188.4 L379.4,189.8 L379.9,191.6 L380.5,193.5 L381.0,195.6 L381.5,197.6 L382.1,199.6 L382.6,201.3 L383.1,202.8 L383.6,203.9 L384.2,204.5 L384.7,204.8 L385.2,204.6 L385.7,203.9 L386.2,202.9 L386.7,201.6 L387.3,199.9 L387.8,198.0 L388.3,195.8 L388.8,193.6 L389.3,191.3 L389.8,189.1 L390.3,187.0 L390.8,185.1 L391.4,183.4 L391.9,182.0 L392.4,181.0 L392.9,180.4 L393.4,180.2 L393.9,180.5 L394.4,181.5 L394.9,183.0 L395.4,185.1 L395.9,187.6 L396.4,190.4 L396.9,193.5 L397.4,196.6 L397.9,199.6 L398.4,202.4 L398.9,205.0 L399.4,207.0 L399.9,208.6 L400.4,209.5 L400.9,209.9 L401.4,209.5 L401.9,208.5 L402.4,206.9 L402.9,204.8 L403.5,202.2 L404.0,199.2 L404.5,195.9 L405.0,192.6 L405.5,189.2 L406.0,185.9 L406.5,182.9 L407.1,180.3 L407.6,178.2 L408.1,176.6 L408.6,175.6 L409.1,175.3 L409.6,175.8 L410.2,177.3 L410.7,179.7 L411.2,182.9 L411.7,186.8 L412.3,191.1 L412.8,195.6 L413.3,200.2 L413.9,204.5 L414.4,208.4 L414.9,211.6 L415.4,214.0 L416.0,215.5 L416.5,216.0 L417.0,215.5 L417.6,214.1 L418.1,211.7 L418.6,208.5 L419.1,204.6 L419.7,200.2 L420.2,195.6 L420.7,190.8 L421.2,186.1 L421.8,181.7 L422.3,177.9 L422.8,174.7 L423.3,172.3 L423.9,170.8 L424.4,170.3 L424.9,170.9 L425.4,172.6 L425.9,175.3 L426.4,178.9 L426.9,183.3 L427.4,188.2 L427.9,193.5 L428.4,199.0 L428.9,204.3 L429.4,209.2 L429.9,213.6 L430.4,217.3 L430.9,220.0 L431.4,221.7 L431.9,222.2 L432.4,221.6 L432.9,220.0 L433.4,217.2 L433.9,213.5 L434.5,209.0 L435.0,203.9 L435.5,198.3 L436.0,192.5 L436.5,186.7 L437.0,181.1 L437.5,176.0 L438.1,171.4 L438.6,167.7 L439.1,165.0 L439.6,163.3 L440.1,162.7 L440.6,163.4 L441.2,165.5 L441.7,168.9 L442.2,173.5 L442.7,179.0 L443.3,185.2 L443.8,191.8 L444.3,198.6 L444.8,205.2 L445.4,211.4 L445.9,216.9 L446.4,221.4 L446.9,224.8 L447.5,226.9 L448.0,227.6 L448.5,227.0 L449.0,225.0 L449.5,221.9 L450.1,217.7 L450.6,212.6 L451.1,206.7 L451.6,200.3 L452.1,193.7 L452.6,187.1 L453.1,180.7 L453.6,174.9 L454.1,169.7 L454.7,165.5 L455.2,162.4 L455.7,160.5 L456.2,159.8 L456.7,160.6 L457.3,162.8 L457.8,166.5 L458.3,171.4 L458.8,177.4 L459.4,184.1 L459.9,191.3 L460.4,198.6 L460.9,205.8 L461.5,212.5 L462.0,218.5 L462.5,223.4 L463.0,227.1 L463.6,229.3 L464.1,230.1 L464.6,229.4 L465.1,227.4 L465.6,224.0 L466.2,219.6 L466.7,214.1 L467.2,207.9 L467.7,201.2 L468.2,194.2 L468.7,187.2 L469.2,180.4 L469.7,174.2 L470.2,168.8 L470.8,164.3 L471.3,161.0 L471.8,158.9 L472.3,158.3 L472.8,159.0 L473.3,161.3 L473.8,165.1 L474.3,170.0 L474.8,176.1 L475.3,182.9 L475.8,190.1 L476.3,197.6 L476.8,204.9 L477.3,211.7 L477.8,217.7 L478.3,222.7 L478.8,226.4 L479.3,228.7 L479.8,229.5 L480.3,228.8 L480.9,226.8 L481.4,223.5 L481.9,219.2 L482.4,213.8 L482.9,207.7 L483.5,201.1 L484.0,194.3 L484.5,187.4 L485.1,180.8 L485.6,174.7 L486.1,169.3 L486.6,165.0 L487.1,161.7 L487.7,159.7 L488.2,159.0 L488.7,159.8 L489.2,161.9 L489.7,165.5 L490.3,170.2 L490.8,175.9 L491.3,182.3 L491.8,189.2 L492.3,196.2 L492.8,203.1 L493.3,209.5 L493.8,215.2 L494.4,220.0 L494.9,223.5 L495.4,225.7 L495.9,226.4 L496.4,225.7 L497.0,223.7 L497.5,220.4 L498.0,216.0 L498.5,210.6 L499.1,204.6 L499.6,198.2 L500.1,191.6 L500.6,185.1 L501.2,179.1 L501.7,173.8 L502.2,169.4 L502.7,166.1 L503.3,164.0 L503.8,163.4 L504.3,164.0 L504.8,166.0 L505.3,169.1 L505.8,173.3 L506.3,178.4 L506.8,184.1 L507.3,190.3 L507.8,196.5 L508.3,202.7 L508.8,208.4 L509.3,213.5 L509.8,217.7 L510.3,220.9 L510.8,222.8 L511.3,223.5 L511.8,222.8 L512.4,220.9 L512.9,217.8 L513.4,213.7 L514.0,208.8 L514.5,203.2 L515.0,197.2 L515.6,191.0 L516.1,185.0 L516.6,179.4 L517.2,174.5 L517.7,170.4 L518.2,167.3 L518.8,165.4 L519.3,164.7 L519.8,165.5 L520.4,167.6 L520.9,170.9 L521.4,175.4 L521.9,180.8 L522.5,186.8 L523.0,193.1 L523.5,199.4 L524.1,205.4 L524.6,210.8 L525.1,215.3 L525.6,218.6 L526.2,220.7 L526.7,221.4 L527.2,220.8 L527.8,219.0 L528.3,216.0 L528.8,211.9 L529.3,207.1 L529.9,201.6 L530.4,195.7 L530.9,189.7 L531.4,183.8 L532.0,178.3 L532.5,173.5 L533.0,169.5 L533.5,166.5 L534.1,164.6 L534.6,164.0 L535.1,164.6 L535.7,166.6 L536.2,169.8 L536.7,174.1 L537.2,179.3 L537.8,185.1 L538.3,191.4 L538.8,197.8 L539.3,204.0 L539.9,209.9 L540.4,215.0 L540.9,219.3 L541.4,222.5 L542.0,224.5 L542.5,225.2 L543.0,224.6 L543.5,222.8 L544.0,219.9 L544.5,215.9 L545.0,211.2 L545.5,205.7 L546.0,199.8 L546.5,193.7 L547.0,187.6 L547.5,181.7 L548.0,176.2 L548.5,171.5 L549.0,167.6 L549.5,164.7 L550.0,162.9 L550.5,162.3 L551.0,162.9 L551.5,164.7 L552.0,167.6 L552.5,171.6 L553.1,176.4 L553.6,181.9 L554.1,187.9 L554.6,194.1 L555.1,200.3 L555.6,206.3 L556.1,211.8 L556.7,216.6 L557.2,220.6 L557.7,223.5 L558.2,225.3 L558.7,225.9 L559.2,225.1 L559.7,222.7 L560.2,218.9 L560.8,213.8 L561.3,207.7 L561.8,200.9 L562.3,193.7 L562.8,186.5 L563.3,179.7 L563.8,173.6 L564.4,168.5 L564.9,164.7 L565.4,162.3 L565.9,161.5 L566.4,162.1 L566.9,163.9 L567.4,166.9 L568.0,170.8 L568.5,175.6 L569.0,181.1 L569.5,187.1 L570.0,193.3 L570.5,199.5 L571.0,205.5 L571.5,211.0 L572.0,215.8 L572.6,219.8 L573.1,222.7 L573.6,224.5 L574.1,225.2 L574.6,224.5 L575.2,222.5 L575.7,219.3 L576.2,214.9 L576.7,209.7 L577.3,203.8 L577.8,197.5 L578.3,191.0 L578.8,184.7 L579.4,178.8 L579.9,173.6 L580.4,169.3 L580.9,166.0 L581.5,164.0 L582.0,163.4 L582.5,164.1 L583.1,166.4 L583.6,170.0 L584.1,174.8 L584.6,180.5 L585.2,186.9 L585.7,193.6 L586.2,200.4 L586.8,206.8 L587.3,212.5 L587.8,217.3 L588.3,220.9 L588.9,223.2 L589.4,223.9 L589.9,223.3 L590.4,221.7 L590.9,218.9 L591.5,215.3 L592.0,210.8 L592.5,205.7 L593.0,200.1 L593.5,194.3 L594.0,188.6 L594.5,183.0 L595.0,177.9 L595.5,173.4 L596.1,169.7 L596.6,167.0 L597.1,165.3 L597.6,164.7 L598.1,165.4 L598.6,167.3 L599.1,170.4 L599.6,174.5 L600.1,179.4 L600.6,185.0 L601.1,191.0 L601.6,197.2 L602.1,203.2 L602.6,208.8 L603.1,213.7 L603.6,217.8 L604.1,220.9 L604.6,222.8 L605.1,223.5 L605.6,223.0 L606.1,221.5 L606.6,219.1 L607.1,215.9 L607.7,211.9 L608.2,207.3 L608.7,202.3 L609.2,197.0 L609.7,191.6 L610.2,186.4 L610.7,181.4 L611.2,176.8 L611.8,172.8 L612.3,169.6 L612.8,167.2 L613.3,165.7 L613.8,165.2 L614.3,165.8 L614.9,167.7 L615.4,170.8 L615.9,174.9 L616.4,179.9 L617.0,185.5 L617.5,191.5 L618.0,197.6 L618.5,203.6 L619.1,209.2 L619.6,214.2 L620.1,218.3 L620.6,221.4 L621.2,223.3 L621.7,223.9 L622.2,223.3 L622.7,221.7 L623.2,218.9 L623.8,215.3 L624.3,210.8 L624.8,205.7 L625.3,200.1 L625.8,194.3 L626.3,188.6 L626.8,183.0 L627.3,177.9 L627.9,173.4 L628.4,169.7 L628.9,167.0 L629.4,165.3 L629.9,164.7 L630.4,165.4 L630.9,167.3 L631.4,170.4 L632.0,174.5 L632.5,179.5 L633.0,185.2 L633.5,191.2 L634.0,197.4 L634.5,203.5 L635.0,209.1 L635.5,214.1 L636.1,218.3 L636.6,221.4 L637.1,223.3 L637.6,223.9 L638.1,223.3 L638.6,221.6 L639.1,218.9 L639.6,215.1 L640.2,210.6 L640.7,205.4 L641.2,199.8 L641.7,193.9 L642.2,188.1 L642.7,182.5 L643.2,177.3 L643.8,172.8 L644.3,169.0 L644.8,166.3 L645.3,164.5 L645.8,164.0 L646.3,164.7 L646.9,167.0 L647.4,170.6 L647.9,175.3 L648.4,181.1 L649.0,187.5 L649.5,194.2 L650.0,200.9 L650.6,207.3 L651.1,213.0 L651.6,217.8 L652.1,221.4 L652.7,223.6 L653.2,224.4 L653.7,223.9 L654.2,222.3 L654.7,219.8 L655.2,216.4 L655.8,212.3 L656.3,207.5 L656.8,202.3 L657.3,196.8 L657.8,191.1 L658.3,185.6 L658.8,180.4 L659.3,175.6 L659.9,171.5 L660.4,168.1 L660.9,165.6 L661.4,164.0 L661.9,163.5 L662.4,164.3 L663.0,166.6 L663.5,170.2 L664.0,175.1 L664.5,181.0 L665.1,187.5 L665.6,194.3 L666.1,201.2 L666.7,207.7 L667.2,213.5 L667.7,218.4 L668.2,222.1 L668.8,224.4 L669.3,225.2 L669.8,224.6 L670.3,223.0 L670.8,220.5 L671.3,217.0 L671.9,212.8 L672.4,207.9 L672.9,202.5 L673.4,196.8 L673.9,191.1 L674.4,185.4 L674.9,180.0 L675.4,175.1 L676.0,170.9 L676.5,167.4 L677.0,164.8 L677.5,163.3 L678.0,162.7 L678.5,163.4 L679.0,165.4 L679.5,168.7 L680.0,173.0 L680.5,178.3 L681.0,184.2 L681.5,190.6 L682.0,197.1 L682.5,203.5 L683.0,209.4" fill="none" stroke="#e8862a" stroke-width="2.05" stroke-linejoin="round"/>
<g stroke="#3c3c3c" stroke-width="1.45"><line x1="58.4" y1="381.9" x2="58.4" y2="391" /><line x1="138.3" y1="381.9" x2="138.3" y2="391" /><line x1="218.2" y1="381.9" x2="218.2" y2="391" /><line x1="298.2" y1="381.9" x2="298.2" y2="391" /><line x1="378.1" y1="381.9" x2="378.1" y2="391" /><line x1="458.0" y1="381.9" x2="458.0" y2="391" /><line x1="537.9" y1="381.9" x2="537.9" y2="391" /><line x1="617.9" y1="381.9" x2="617.9" y2="391" /><line x1="50" y1="39.60" x2="59.7" y2="39.60" /><line x1="50" y1="117.60" x2="59.7" y2="117.60" /><line x1="50" y1="193.40" x2="59.7" y2="193.40" /><line x1="50" y1="271.55" x2="59.7" y2="271.55" /><line x1="50" y1="348.60" x2="59.7" y2="348.60" /></g>
<g fill="#0c0c0c"><rect x="48.1" y="0.5" width="2.1" height="392.4"/><rect x="682" y="0.5" width="2" height="392.4"/><rect x="48.1" y="0.5" width="635.9" height="2.35"/><rect x="48.1" y="390.9" width="635.9" height="2"/></g>
<g font-family="'Liberation Sans', sans-serif" font-size="17" fill="#111" stroke="#111" stroke-width="0.2"><text transform="translate(58.4,412.6) scale(0.975,1)" text-anchor="middle" font-size="18.2">39</text><text transform="translate(138.3,412.6) scale(0.975,1)" text-anchor="middle" font-size="18.2">39.5</text><text transform="translate(218.2,412.6) scale(0.975,1)" text-anchor="middle" font-size="18.2">40</text><text transform="translate(298.2,412.6) scale(0.975,1)" text-anchor="middle" font-size="18.2">40.5</text><text transform="translate(378.1,412.6) scale(0.975,1)" text-anchor="middle" font-size="18.2">41</text><text transform="translate(458.0,412.6) scale(0.975,1)" text-anchor="middle" font-size="18.2">41.5</text><text transform="translate(537.9,412.6) scale(0.975,1)" text-anchor="middle" font-size="18.2">42</text><text transform="translate(617.9,412.6) scale(0.975,1)" text-anchor="middle" font-size="18.2">42.5</text><text transform="translate(45.7,46.85) scale(0.94,1)" text-anchor="end" font-size="18.4">10</text><text transform="translate(45.7,122.35) scale(0.94,1)" text-anchor="end" font-size="18.4">5</text><text transform="translate(45.7,202.25) scale(0.94,1)" text-anchor="end" font-size="18.4">0</text><text transform="translate(45.7,278.25) scale(0.94,1)" text-anchor="end" font-size="18.4">-5</text><text transform="translate(45.7,354.15) scale(0.94,1)" text-anchor="end" font-size="18.4">-10</text></g>
<text transform="translate(356.8,432) scale(1.008,1)" text-anchor="middle" font-family="'Liberation Sans', sans-serif" font-size="17.5" fill="#111" stroke="#111" stroke-width="0.2">Time [ns]</text>
<text transform="translate(14.3,197.5) rotate(-90) scale(1.04,1)" text-anchor="middle" font-family="'Liberation Sans', sans-serif" font-size="17" fill="#111" stroke="#111" stroke-width="0.2">Amplitude [mV]</text>
<rect x="65.1" y="13.2" width="17.5" height="17.5" fill="#19508a"/>
<rect x="109.7" y="14.7" width="17.1" height="17.3" fill="#91c67d"/>
<rect x="160.8" y="14.7" width="17.3" height="17.3" fill="#e8862a"/>
<g font-family="'Liberation Sans', sans-serif" font-size="12" fill="#111" stroke="#111" stroke-width="0.2"><text x="83.6" y="26.2">ref</text><text x="127.6" y="26.2">sam</text><text x="179.7" y="26.2">sam without 1st pp</text></g>
</svg>
</body></html>
